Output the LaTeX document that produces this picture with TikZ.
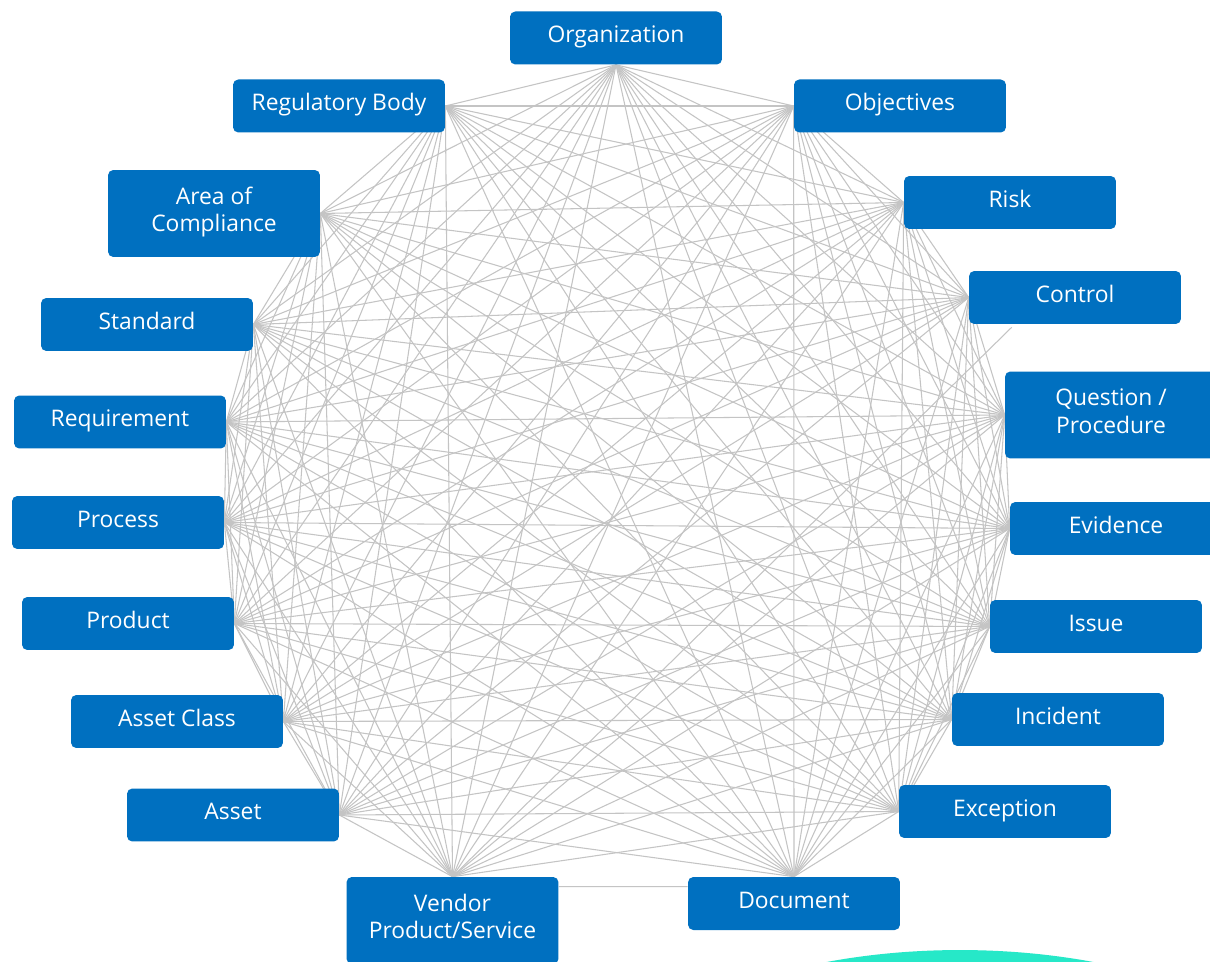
\documentclass[tikz,border=0pt]{standalone}
\usepackage{fontspec}
\setmainfont{Open Sans}
\usetikzlibrary{backgrounds}

\definecolor{boxblue}{HTML}{0070C0}
\definecolor{linkgray}{HTML}{C4C4C4}
\definecolor{wave}{HTML}{26E8C8}

\begin{document}
\begin{tikzpicture}[x=0.02cm, y=-0.02cm,
    box/.style={fill=boxblue, text=white, rounded corners=3pt, minimum width=4.24cm,
        align=center, inner sep=2pt, font=\fontsize{13}{15.5}\selectfont},
    entity/.style={box, minimum height=1.06cm, text height=0.8em, text depth=0.25em},
    entity2/.style={box, minimum height=1.74cm, text depth=0.45em},
    link/.style={linkgray, line width=0.6pt}]
    \useasboundingbox (0,0) rectangle (1210,962);
    % Entities, clockwise from the top
    \node[entity] (org) at (616,38) {Organization};
    \node[entity] (obj) at (900,106) {Objectives};
    \node[entity] (risk) at (1010,202.5) {Risk};
    \node[entity] (ctrl) at (1075,297.5) {Control};
    \node[entity2] (qp) at (1111,415) {Question /\\Procedure};
    \node[entity] (evid) at (1116,528.5) {Evidence};
    \node[entity] (issue) at (1096,626.5) {Issue};
    \node[entity] (inc) at (1058,719.5) {Incident};
    \node[entity] (exc) at (1005,811.5) {Exception};
    \node[entity] (doc) at (794,903.5) {Document};
    \node[entity2] (vend) at (452.5,920.5) {Vendor\\Product/Service};
    \node[entity] (asset) at (233,815) {Asset};
    \node[entity] (aclass) at (177,721.5) {Asset Class};
    \node[entity] (prod) at (128,623.5) {Product};
    \node[entity] (proc) at (118,522.5) {Process};
    \node[entity] (req) at (120,422) {Requirement};
    \node[entity] (std) at (147,324.5) {Standard};
    \node[entity2] (area) at (214,213.5) {Area of\\Compliance};
    \node[entity] (reg) at (339,106) {Regulatory Body};
    % Link points
    \coordinate (c1) at (org.south);
    \coordinate (c2) at (obj.west);
    \coordinate (c3) at (risk.west);
    \coordinate (c4) at (ctrl.west);
    \coordinate (c5) at (qp.west);
    \coordinate (c6) at (evid.west);
    \coordinate (c7) at (issue.west);
    \coordinate (c8) at (inc.west);
    \coordinate (c9) at (exc.west);
    \coordinate (c10) at (doc.north);
    \coordinate (c11) at (vend.north);
    \coordinate (c12) at (asset.east);
    \coordinate (c13) at (aclass.east);
    \coordinate (c14) at (prod.east);
    \coordinate (c15) at (proc.east);
    \coordinate (c16) at (req.east);
    \coordinate (c17) at (std.east);
    \coordinate (c18) at (area.east);
    \coordinate (c19) at (reg.east);
    \begin{scope}[on background layer]
        % Background
        \fill[white] (0,0) rectangle (1210,962);
        \begin{scope}
            \clip (0,0) rectangle (1210,962);
            \fill[wave] (960,1160) ellipse (8cm and 4.2cm);
        \end{scope}
        % Every entity linked to every other
        \foreach \i in {1,...,18} {
            \pgfmathtruncatemacro\nxt{\i+1}
            \foreach \j in {\nxt,...,19} {
                \ifnum\i\j=1011 \else\ifnum\i\j=411 \else
                    \draw[link] (c\i) -- (c\j);
                \fi\fi
            }
        }
        \draw[link] ([yshift=-0.2cm]vend.north east) -- ([yshift=-0.2cm]doc.north west);
        \draw[link] (vend.north) -- ([xshift=0.86cm, yshift=-0.06cm]ctrl.south west);
    \end{scope}
\end{tikzpicture}
\end{document}
